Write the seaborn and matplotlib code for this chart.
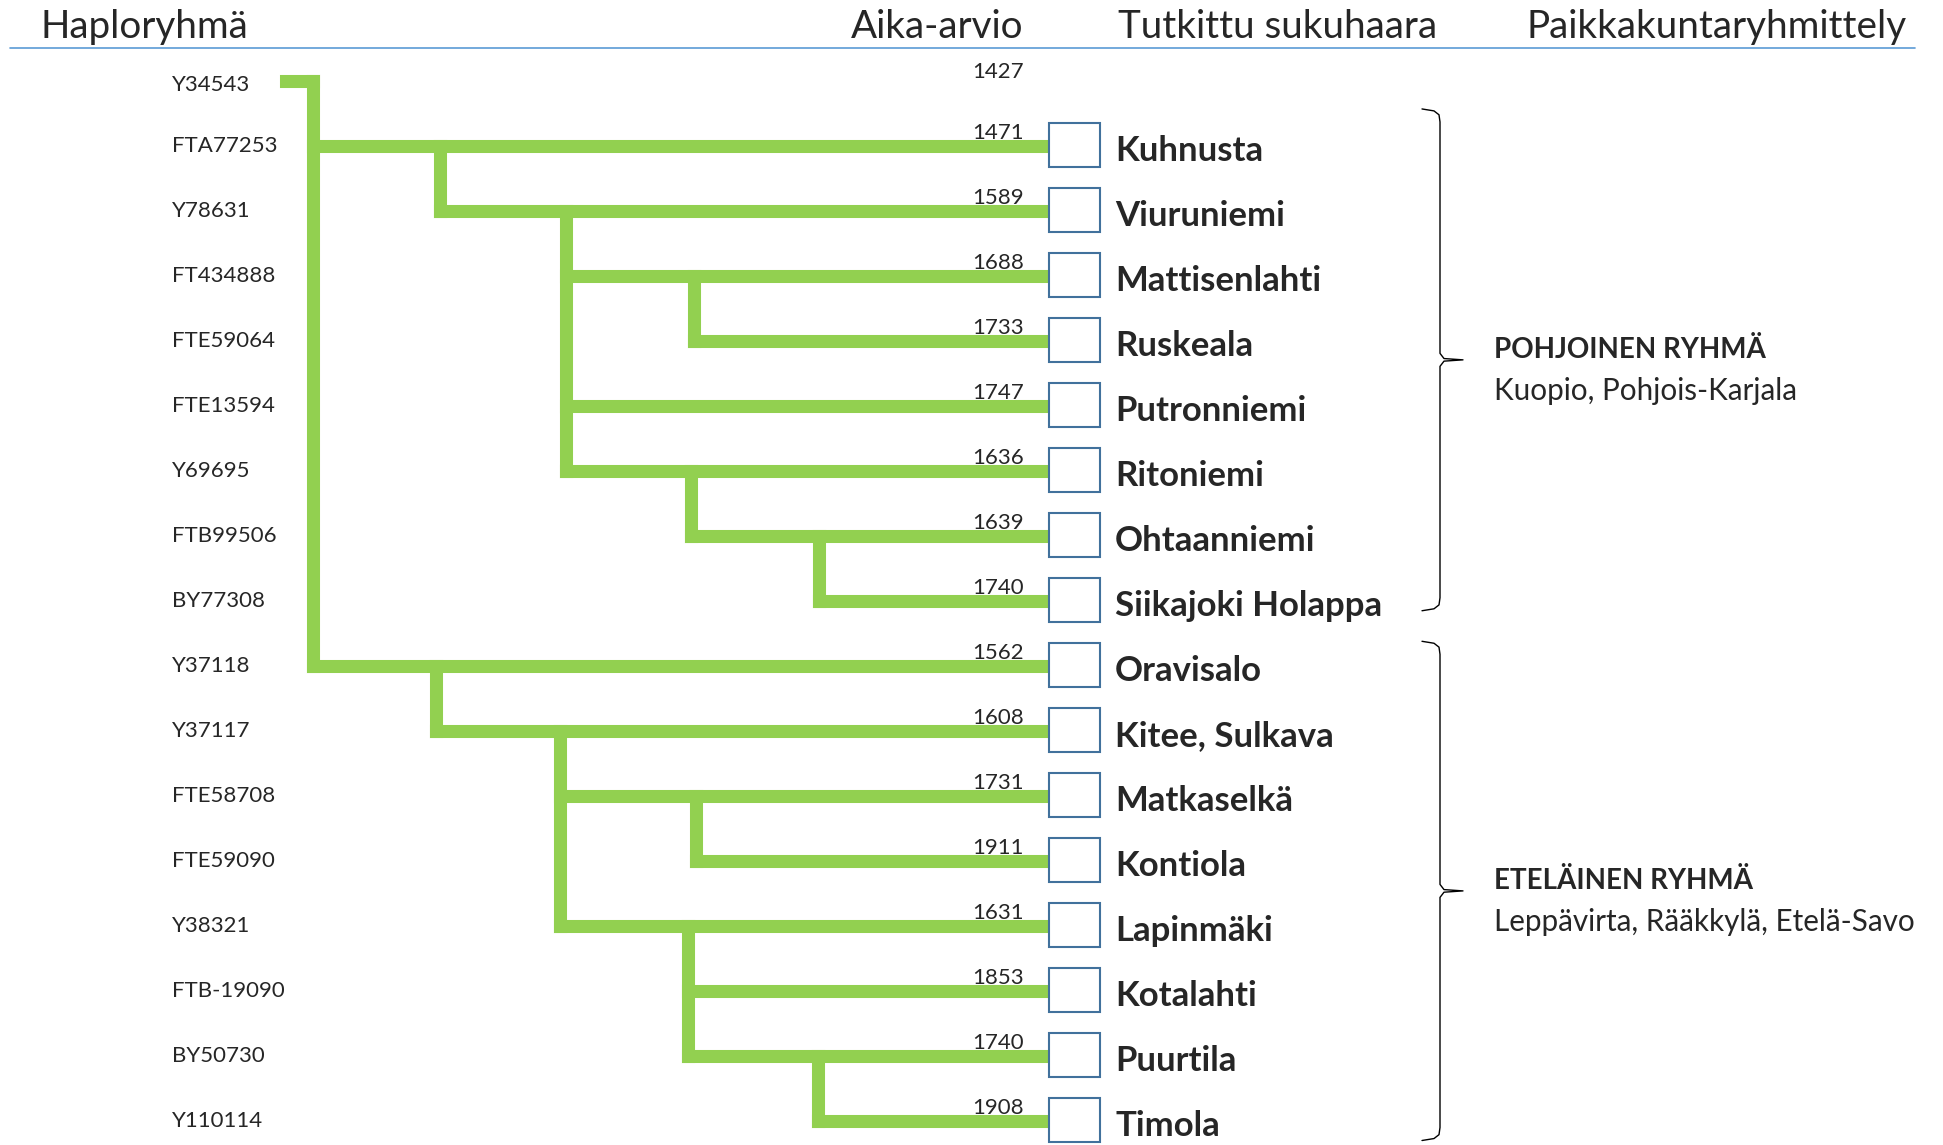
import matplotlib
matplotlib.use("Agg")
import matplotlib.pyplot as plt
from matplotlib.patches import Rectangle
import pandas as pd
import seaborn as sns

# rows of the tree, top to bottom
haplogroups = ["Y34543", "FTA77253", "Y78631", "FT434888", "FTE59064", "FTE13594",
               "Y69695", "FTB99506", "BY77308", "Y37118", "Y37117", "FTE58708",
               "FTE59090", "Y38321", "FTB-19090", "BY50730", "Y110114"]
years = [1427, 1471, 1589, 1688, 1733, 1747, 1636, 1639, 1740,
         1562, 1608, 1731, 1911, 1631, 1853, 1740, 1908]
places = [None, "Kuhnusta", "Viuruniemi", "Mattisenlahti", "Ruskeala", "Putronniemi",
          "Ritoniemi", "Ohtaanniemi", "Siikajoki Holappa", "Oravisalo", "Kitee, Sulkava",
          "Matkaselkä", "Kontiola", "Lapinmäki", "Kotalahti", "Puurtila", "Timola"]
# parent row of each row (None = root)
parents = [None, 0, 1, 2, 3, 2, 2, 6, 7, 0, 9, 10, 11, 10, 13, 13, 15]
# horizontal position of the branching point below each row (tree layout)
node_x = {0: 313, 1: 440, 2: 566, 3: 694, 6: 691, 7: 819,
          9: 436, 10: 560, 11: 696, 13: 688, 15: 818}

headers = ["Haploryhmä", "Aika-arvio", "Tutkittu sukuhaara", "Paikkakuntaryhmittely"]
# title, places, brace top / bottom (in rows)
groups = [("POHJOINEN RYHMÄ", "Kuopio, Pohjois-Karjala", 0.43, 8.15),
          ("ETELÄINEN RYHMÄ", "Leppävirta, Rääkkylä, Etelä-Savo", 8.62, 16.3)]

GREEN = "#92d050"
BLUE = "#41719c"
W, H = 1943, 1145
Y0, DY = 81, 65  # pixel of row 0, pixel per row
box_left = 1049

sns.set_theme(style="white")
plt.rcParams["font.family"] = ["Lato", "DejaVu Sans"]

fig = plt.figure(figsize=(W / 100, H / 100), dpi=100)
ax = fig.add_axes([0, 0, 1, 1])

# build segments of the tree
segs = []
n = 0
segs.append((n, 286, 0)); segs.append((n, node_x[0], 0)); n += 1
for i, p in enumerate(parents):
    if p is None:
        continue
    segs.append((n, node_x[p], i)); segs.append((n, box_left, i)); n += 1
for p, x in node_x.items():
    kids = [i for i, q in enumerate(parents) if q == p]
    segs.append((n, x, p)); segs.append((n, x, max(kids))); n += 1
df = pd.DataFrame(segs, columns=["seg", "x", "row"])

sns.lineplot(data=df, x="x", y="row", units="seg", estimator=None, sort=False,
             color=GREEN, lw=9.4, solid_capstyle="projecting", legend=False, ax=ax)

for i, name in enumerate(haplogroups):
    ax.text(172, i + (0.06 if i == 0 else 0.0), name, fontsize=16, ha="left", va="center")
    ax.text(998, i - (0.05 if i == 0 else 0.11), str(years[i]), fontsize=16,
            ha="center", va="baseline")
    if places[i]:
        ax.add_patch(Rectangle((box_left, i - 0.36), 51, 0.69, fc="white",
                               ec=BLUE, lw=1.5, zorder=5))
        ax.text(1115, i + 0.07, places[i], fontsize=25, fontweight="bold",
                ha="left", va="center")

# braces and group labels
for title, sub, top, bot in groups:
    mid = (top + bot) / 2
    bx = [1422, 1434, 1439, 1440, 1440, 1444, 1463, 1444, 1440, 1440, 1439, 1434, 1422]
    by = [top, top + 0.03, top + 0.09, top + 0.2, mid - 0.1, mid - 0.02, mid,
          mid + 0.02, mid + 0.1, bot - 0.2, bot - 0.09, bot - 0.03, bot]
    ax.plot(bx, by, color="black", lw=1.0)
    ax.text(1494, mid - 0.15, title, fontsize=20, fontweight="bold", ha="left", va="center")
    ax.text(1494, mid + 0.48, sub, fontsize=21.3, ha="left", va="center")

ax.set_xlim(0, W)
ax.set_ylim((H - Y0) / DY, -Y0 / DY)
ax.axis("off")

# header row
head_x = [40, 851, 1118, 1527]
for hx, h in zip(head_x, headers):
    fig.text(hx / W, 1 - 27 / H, h, fontsize=27.8, ha="left", va="center")
fig.add_artist(plt.Line2D([10 / W, 1915 / W], [1 - 48 / H, 1 - 48 / H],
                          color="#5b9bd5", lw=1.2))

fig.savefig("out.png", dpi=100)
